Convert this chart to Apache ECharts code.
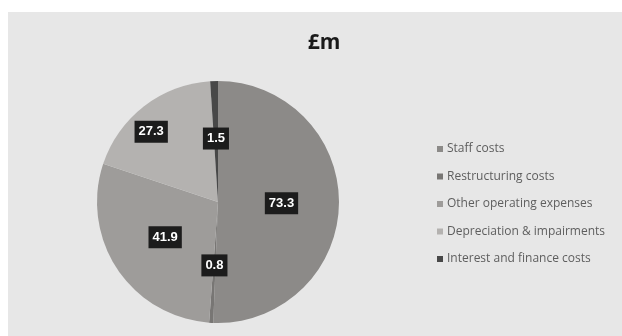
<!DOCTYPE html>
<html>
<head>
<meta charset="utf-8">
<script src="https://cdn.jsdelivr.net/npm/echarts@6/dist/echarts.min.js"></script>
<style>
  html, body { margin: 0; padding: 0; background: #ffffff; }
  #chart { position: absolute; left: 8px; top: 12px; width: 614px; height: 324px; background: #e7e7e7; }
</style>
</head>
<body>
<div id="chart"></div>
<script>
// Cost breakdown, £m
const categories = [
  'Staff costs',
  'Restructuring costs',
  'Other operating expenses',
  'Depreciation & impairments',
  'Interest and finance costs'
];
const values = [73.3, 0.8, 41.9, 27.3, 1.5];
const sliceColors = ['#8c8a88', '#787674', '#9e9c9a', '#b4b2b0', '#484848'];

const chart = echarts.init(document.getElementById('chart'), null, { renderer: 'canvas' });

const data = categories.map((name, i) => ({
  name: name,
  value: values[i],
  itemStyle: { color: sliceColors[i] }
}));

chart.setOption({
  animation: false,
  title: {
    text: '£m',
    left: 311,
    top: 16,
    textAlign: 'center',
    textStyle: { fontFamily: 'Open Sans', fontSize: 21, fontWeight: 'bold', color: '#1a1a1a' }
  },
  legend: {
    orient: 'vertical',
    left: 424,
    top: 126,
    itemWidth: 6,
    itemHeight: 6,
    itemGap: 15.5,
    icon: 'rect',
    data: categories,
    textStyle: { fontFamily: 'Open Sans', fontSize: 12, color: '#5e5e5e', padding: [0, 0, 0, -1] }
  },
  series: [{
    type: 'pie',
    center: [210, 190],
    radius: [0, 121],
    startAngle: 90,
    clockwise: true,
    avoidLabelOverlap: false,
    label: {
      show: true,
      position: 'inside',
      formatter: p => p.value.toFixed(1),
      backgroundColor: '#1c1c1c',
      color: '#ffffff',
      fontFamily: 'Liberation Sans',
      fontWeight: 'bold',
      fontSize: 13,
      padding: [5, 4, 4, 4]
    },
    labelLayout: function (params) {
      // push the depreciation label further out along its slice
      if (params.dataIndex === 3) {
        return { dx: -28, dy: -20 };
      }
      return {};
    },
    labelLine: { show: false },
    itemStyle: { borderWidth: 0 },
    data: data
  }]
});
</script>
</body>
</html>
